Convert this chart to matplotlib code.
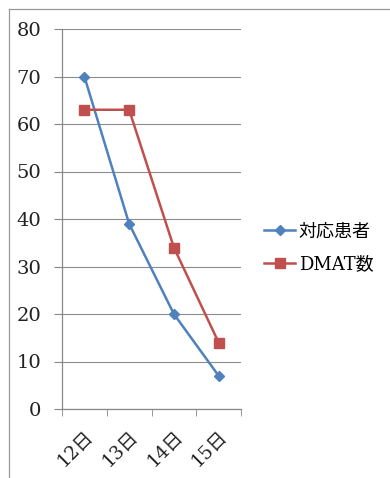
import matplotlib
matplotlib.use('Agg')
import matplotlib.pyplot as plt
from matplotlib.lines import Line2D

# 日別の推移
days = ['12日', '13日', '14日', '15日']
patients = [70, 39, 20, 7]      # 対応患者
dmat = [63, 63, 34, 14]         # DMAT数
yticks = [0, 10, 20, 30, 40, 50, 60, 70, 80]

plt.rcParams['font.family'] = ['DejaVu Serif', 'Noto Sans CJK JP']

fig = plt.figure(figsize=(3.9, 4.78), dpi=100)
ax = fig.add_axes([62 / 390, 1 - 409 / 478, 179 / 390, 380 / 478])

x = range(len(days))
ax.plot(x, patients, color='#4F81BD', lw=1.8, marker='D', ms=5,
        label='対応患者')
ax.plot(x, dmat, color='#C0504D', lw=1.8, marker='s', ms=7,
        label='DMAT数')

ax.set_xlim(-0.5, len(days) - 0.5)
ax.set_ylim(0, 80)
ax.set_yticks(yticks)
ax.set_yticklabels([str(v) for v in yticks], fontsize=14, color='#222222')
ax.set_xticks(list(x))
ax.set_xticklabels(days, rotation=45, ha='right', va='top',
                   rotation_mode='anchor', fontsize=13.5, color='#222222')
ax.set_xticks([i - 0.5 for i in range(len(days) + 1)], minor=True)
ax.tick_params(axis='x', which='major', length=0, pad=13)
ax.tick_params(axis='x', which='minor', length=5, color='#888888')
ax.tick_params(axis='y', length=6, color='#888888', pad=9)

ax.grid(axis='y', color='#8c8c8c', lw=0.8)
ax.set_axisbelow(True)
for side in ['top', 'right']:
    ax.spines[side].set_visible(False)
for side in ['left', 'bottom']:
    ax.spines[side].set_color('#888888')
    ax.spines[side].set_linewidth(0.9)

fig.legend(loc='center left', bbox_to_anchor=(248 / 390, 1 - 248 / 478),
           frameon=False, handlelength=1.7, handletextpad=0.2,
           labelspacing=0.8,
           prop={'family': ['DejaVu Serif', 'Noto Sans CJK JP'], 'size': 13})

# 外枠（上・左）
fig.add_artist(Line2D([9 / 390, 9 / 390], [0, 1 - 9 / 478], color='#999999', lw=0.9))
fig.add_artist(Line2D([9 / 390, 1], [1 - 9 / 478, 1 - 9 / 478], color='#999999', lw=0.9))

fig.savefig('out.png', dpi=100)
